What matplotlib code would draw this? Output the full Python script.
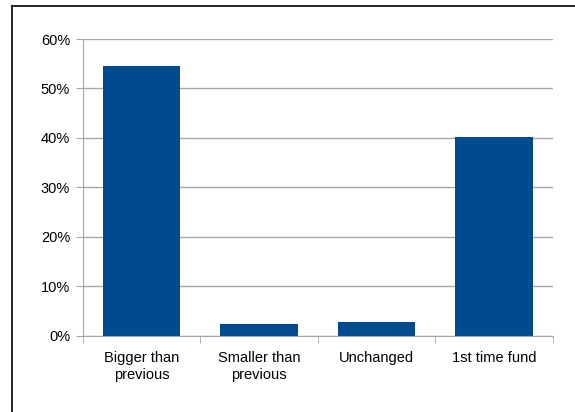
import matplotlib
matplotlib.use("Agg")
import matplotlib.pyplot as plt
from matplotlib.lines import Line2D
from matplotlib.ticker import PercentFormatter

categories = ['Bigger than\nprevious', 'Smaller than\nprevious', 'Unchanged', '1st time fund']
values = [54.6, 2.3, 2.7, 40.2]
y_ticks = [0, 10, 20, 30, 40, 50, 60]

plt.rcParams['font.family'] = ['Liberation Sans', 'DejaVu Sans']

fig = plt.figure(figsize=(5.75, 4.12), dpi=100)
ax = fig.add_axes([0.1438, 0.1852, 0.8179, 0.7201])

grey = '#a6a6a6'
ax.bar(range(len(values)), values, width=0.66, color='#004b8d', zorder=3)

ax.set_xlim(-0.5, len(values) - 0.5)
ax.set_ylim(0, 60)
ax.set_yticks(y_ticks)
ax.yaxis.set_major_formatter(PercentFormatter(decimals=0))
ax.set_xticks(range(len(values)))
ax.set_xticklabels(categories, fontsize=10.5, linespacing=1.25)
ax.set_xticks([i - 0.5 for i in range(len(values) + 1)], minor=True)
ax.tick_params(axis='x', which='major', length=0, pad=11)
ax.tick_params(axis='x', which='minor', length=5, color=grey, direction='out')
ax.tick_params(axis='y', length=5, color=grey, labelsize=10.5, pad=4)

ax.grid(axis='y', color=grey, linewidth=1, zorder=0)
for side in ['top', 'right']:
    ax.spines[side].set_visible(False)
for side in ['left', 'bottom']:
    ax.spines[side].set_color(grey)
    ax.spines[side].set_zorder(4)

# outer chart frame (only left and top visible in the crop)
fig.add_artist(Line2D([11.5 / 575, 11.5 / 575], [0, 406 / 412], color='black', linewidth=1.2))
fig.add_artist(Line2D([11.5 / 575, 1], [406 / 412, 406 / 412], color='black', linewidth=1.2))

fig.savefig('out.png', dpi=100)
